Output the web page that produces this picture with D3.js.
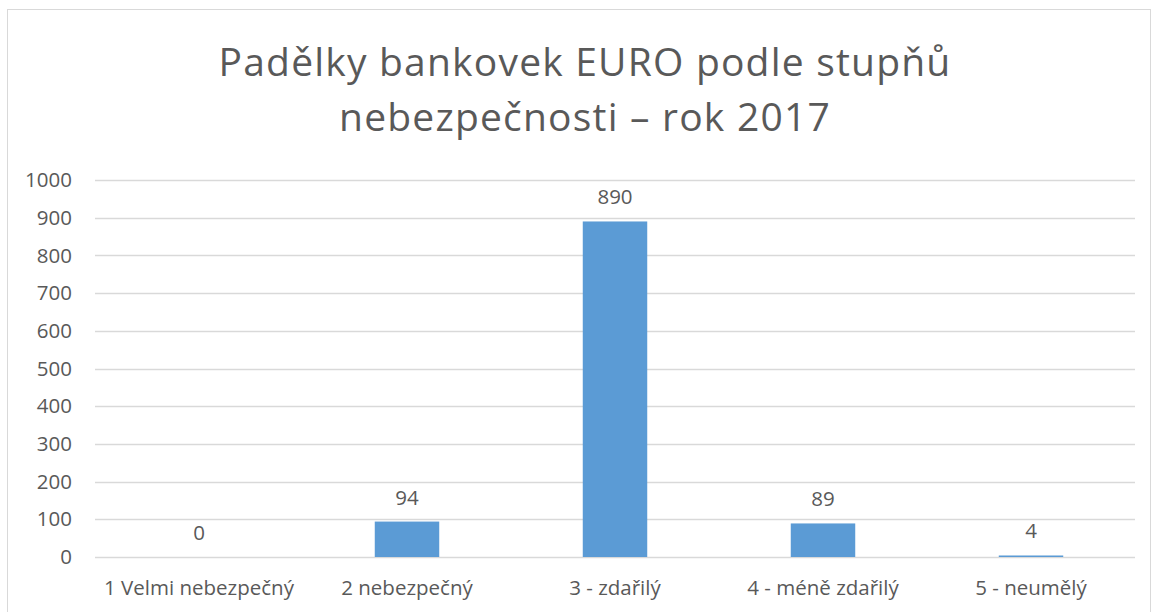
<!DOCTYPE html>
<html>
<head>
<meta charset="utf-8">
<script src="https://cdn.jsdelivr.net/npm/d3@7"></script>
<style>
  body { margin: 0; background: #fff; }
  svg text { font-family: "Open Sans", "Liberation Sans", sans-serif; fill: #595959; }
</style>
</head>
<body>
<svg id="chart"></svg>
<script>
var W = 1160, H = 612;
var categories = ["1 Velmi nebezpečný", "2 nebezpečný", "3 - zdařilý", "4 - méně zdařilý", "5 - neumělý"];
var values = [0, 94, 890, 89, 4];
var yTicks = [0, 100, 200, 300, 400, 500, 600, 700, 800, 900, 1000];
var titleLines = ["Padělky bankovek EURO podle stupňů", "nebezpečnosti – rok 2017"];

var m = {left: 95, right: 25, top: 180, bottom: 55};

var svg = d3.select('#chart').attr('width', W).attr('height', H);

// outer frame
svg.append('rect')
  .attr('x', 7.5).attr('y', 9.5)
  .attr('width', 1143).attr('height', 620)
  .attr('fill', 'none').attr('stroke', '#d9d9d9');

var x = d3.scaleBand().domain(categories).range([m.left, W - m.right]).paddingInner(0.69).paddingOuter(0.345);
var y = d3.scaleLinear().domain([0, 1000]).range([H - m.bottom, m.top]);

// gridlines
svg.append('g').selectAll('line')
  .data(yTicks)
  .enter()
  .append('line')
  .attr('x1', m.left).attr('x2', W - m.right)
  .attr('y1', function(d){ return Math.round(y(d)) + 0.5; })
  .attr('y2', function(d){ return Math.round(y(d)) + 0.5; })
  .attr('stroke', '#d9d9d9').attr('stroke-width', 1.3);

// y tick labels
svg.append('g').selectAll('text')
  .data(yTicks)
  .enter()
  .append('text')
  .attr('x', 72).attr('y', function(d){ return y(d); })
  .attr('dy', '0.35em')
  .attr('text-anchor', 'end')
  .style('font-size', '20.5px')
  .text(function(d){ return d; });

// bars
svg.append('g').selectAll('rect')
  .data(values)
  .enter()
  .append('rect')
  .attr('x', function(d, i){ return x(categories[i]); })
  .attr('width', x.bandwidth())
  .attr('y', function(d){ return y(d); })
  .attr('height', function(d){ return y(0) - y(d); })
  .attr('fill', '#5b9bd5');

// data labels
svg.append('g').selectAll('text')
  .data(values)
  .enter()
  .append('text')
  .attr('x', function(d, i){ return x(categories[i]) + x.bandwidth() / 2; })
  .attr('y', function(d){ return y(d) - 17; })
  .attr('text-anchor', 'middle')
  .style('font-size', '20.5px')
  .text(function(d){ return d; });

// category labels
svg.append('g').selectAll('text')
  .data(categories)
  .enter()
  .append('text')
  .attr('x', function(d){ return x(d) + x.bandwidth() / 2; })
  .attr('y', H - m.bottom + 38)
  .attr('text-anchor', 'middle')
  .style('font-size', '20.5px')
  .text(function(d){ return d; });

// title
svg.append('g').selectAll('text')
  .data(titleLines)
  .enter()
  .append('text')
  .attr('x', 585)
  .attr('y', function(d, i){ return 76 + i * 55; })
  .attr('text-anchor', 'middle')
  .style('font-size', '39px')
  .style('letter-spacing', '1.2px')
  .text(function(d){ return d; });
</script>
</body>
</html>
